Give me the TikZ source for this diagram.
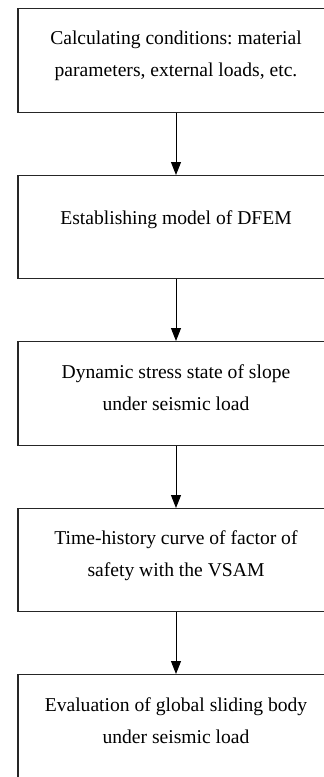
\documentclass[tikz,border=0pt]{standalone}
\usepackage{fontspec}
\setmainfont{Liberation Serif}
\usetikzlibrary{arrows.meta}
\frenchspacing
\begin{document}
\begin{tikzpicture}[x=1pt,y=-1pt,
  box/.style={draw=black!85,line width=1.1pt,minimum width=316pt,inner sep=0pt,anchor=north},
  txt/.style={anchor=north,inner sep=0pt,align=center,font=\fontsize{19.6}{32}\selectfont},
  arr/.style={line width=1pt,-{Triangle[width=10pt,length=13pt]}}]
\useasboundingbox (0,0) rectangle (324,777);
\clip (0,0) rectangle (324,777);
\node[box,minimum height=104pt] (b1) at (176,8) {};
\node[box,minimum height=103pt] (b2) at (176,175) {};
\node[box,minimum height=104pt] (b3) at (176,341) {};
\node[box,minimum height=103pt] (b4) at (176,508) {};
\node[box,minimum height=110pt] (b5) at (176,674) {};
\node[txt] (t1) at (176,30.5) {Calculating conditions: material\\parameters, external loads, etc.};
\node[txt] (t2) at (176,210) {Establishing model of DFEM};
\node[txt] (t3) at (176,364) {Dynamic stress state of slope\\under seismic load};
\node[txt] (t4) at (176,530) {Time-history curve of factor of\\safety with the VSAM};
\node[txt] (t5) at (176,697) {Evaluation of global sliding body\\under seismic load};
\draw[arr] (b1.south) -- (b2.north);
\draw[arr] (b2.south) -- (b3.north);
\draw[arr] (b3.south) -- (b4.north);
\draw[arr] (b4.south) -- (b5.north);
\end{tikzpicture}
\end{document}
